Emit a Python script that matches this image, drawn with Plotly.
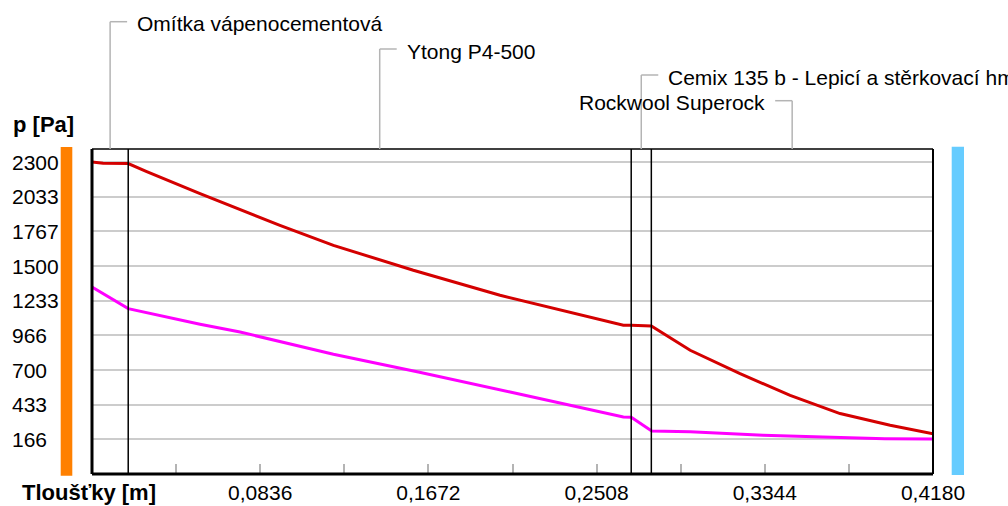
import plotly.graph_objects as go

# ---------------- data ----------------
layer_names = ["Omítka vápenocementová", "Ytong P4-500",
               "Cemix 135 b - Lepicí a stěrkovací hmota", "Rockwool Superock"]
layer_thickness = [0.018, 0.250, 0.010, 0.140]

# saturated water-vapour pressure (red)
sat_x = [0.0, 0.0055, 0.018, 0.0272, 0.0537, 0.0934, 0.1200, 0.1597, 0.2028,
         0.2641, 0.2680, 0.2780, 0.2973, 0.3221, 0.3470, 0.3718, 0.3967, 0.4180]
sat_p = [2300, 2290, 2288, 2226, 2057, 1813, 1659, 1467, 1275,
         1044, 1044, 1039, 852, 672, 505, 365, 275, 210]

# partial water-vapour pressure (magenta)
part_x = [0.0, 0.018, 0.0537, 0.0736, 0.1200, 0.1622, 0.2078, 0.2641, 0.2680,
          0.2782, 0.2973, 0.3335, 0.3633, 0.3941, 0.4180]
part_p = [1338, 1172, 1052, 992, 821, 685, 531, 338, 336,
          231, 225, 198, 185, 172, 169]

y_tick_values = [166.67, 433.33, 700.0, 966.67, 1233.33, 1500.0, 1766.67, 2033.33, 2300.0]
y_tick_labels = ["166", "433", "700", "966", "1233", "1500", "1767", "2033", "2300"]
x_tick_values = [0.0836, 0.1672, 0.2508, 0.3344, 0.4180]
x_tick_labels = ["0,0836", "0,1672", "0,2508", "0,3344", "0,4180"]
x_minor_step = 0.0418
x_range = [0.0, 0.418]
y_range = [-100, 2400]

y_title = "p [Pa]"
x_title = "Tloušťky [m]"

# ---------------- layout geometry ----------------
W, H = 1008, 506
ML, MR, MT, MB = 92, 75, 149, 32
PW, PH = W - ML - MR, H - MT - MB
FONT = "Liberation Sans, Arial, sans-serif"
FS = 21
FSB = 22


def px_x(px):
    return (px - ML) / PW


def px_y(py):
    return (H - MB - py) / PH


def data_to_paper_x(x):
    return (x - x_range[0]) / (x_range[1] - x_range[0])


fig = go.Figure()
fig.add_trace(go.Scatter(x=sat_x, y=sat_p, mode="lines",
                         line=dict(color="#D40000", width=3), showlegend=False))
fig.add_trace(go.Scatter(x=part_x, y=part_p, mode="lines",
                         line=dict(color="#FF00FF", width=3), showlegend=False))

shapes = []
annotations = []

# layer boundaries
bounds = []
acc = 0.0
for t in layer_thickness:
    acc += t
    bounds.append(acc)
for b in bounds[:-1]:
    shapes.append(dict(type="line", xref="x", yref="paper", x0=b, x1=b, y0=0, y1=1,
                       line=dict(color="black", width=1.5), layer="above"))

# frame
shapes += [
    dict(type="line", xref="paper", yref="paper", x0=0, x1=0, y0=0, y1=1,
         line=dict(color="black", width=3), layer="above"),
    dict(type="line", xref="paper", yref="paper", x0=0, x1=1, y0=0, y1=0,
         line=dict(color="black", width=3), layer="above"),
    dict(type="line", xref="paper", yref="paper", x0=0, x1=1, y0=1, y1=1,
         line=dict(color="black", width=1.5), layer="above"),
    dict(type="line", xref="paper", yref="paper", x0=1, x1=1, y0=0, y1=1,
         line=dict(color="black", width=2), layer="above"),
]

# side colour bars (interior / exterior)
shapes.append(dict(type="rect", xref="paper", yref="paper",
                   x0=px_x(60.7), x1=px_x(72.3), y0=px_y(475.7), y1=px_y(147),
                   fillcolor="#FF8000", line=dict(width=0)))
shapes.append(dict(type="rect", xref="paper", yref="paper",
                   x0=px_x(951.7), x1=px_x(964), y0=px_y(475), y1=px_y(146.7),
                   fillcolor="#66CCFF", line=dict(width=0)))

# layer name labels with leader lines
leader_levels_px = [21.7, 49, 75, 100.7]
leader_dir = [1, 1, 1, -1]
lead_len = 17
text_gap = 25
starts = [0.0] + bounds[:-1]
for name, s, b, lvl, d in zip(layer_names, starts, bounds, leader_levels_px, leader_dir):
    mid = data_to_paper_x((s + b) / 2)
    yl = px_y(lvl)
    shapes.append(dict(type="line", xref="paper", yref="paper", x0=mid, x1=mid, y0=1, y1=yl,
                       line=dict(color="#B4B4B4", width=1.5)))
    shapes.append(dict(type="line", xref="paper", yref="paper", x0=mid, x1=mid + d * lead_len / PW,
                       y0=yl, y1=yl, line=dict(color="#B4B4B4", width=1.5)))
    annotations.append(dict(xref="paper", yref="paper", x=mid + d * text_gap / PW, y=yl,
                            yshift=-2, text=name, showarrow=False,
                            xanchor="left" if d > 0 else "right", yanchor="middle",
                            font=dict(family=FONT, size=FS, color="black")))

# y tick labels (left aligned, as in the reference)
for v, lab in zip(y_tick_values, y_tick_labels):
    annotations.append(dict(xref="paper", yref="y", x=px_x(10), y=v, text=lab,
                            showarrow=False, xanchor="left", yanchor="middle",
                            font=dict(family=FONT, size=FS, color="black")))

# axis titles
annotations.append(dict(xref="paper", yref="paper", x=px_x(11), y=px_y(124), text="<b>%s</b>" % y_title,
                        showarrow=False, xanchor="left", yanchor="middle",
                        font=dict(family=FONT, size=FSB, color="black")))
annotations.append(dict(xref="paper", yref="paper", x=px_x(20), y=px_y(492),
                        text="<b>%s</b>" % x_title,
                        showarrow=False, xanchor="left", yanchor="middle",
                        font=dict(family=FONT, size=FSB, color="black")))

fig.update_layout(
    width=W, height=H,
    margin=dict(l=ML, r=MR, t=MT, b=MB, pad=0, autoexpand=False),
    plot_bgcolor="white", paper_bgcolor="white",
    font=dict(family=FONT, size=FS, color="black"),
    shapes=shapes, annotations=annotations,
    xaxis=dict(range=x_range, showgrid=False, zeroline=False, showline=False,
               automargin=False,
               tickmode="array", tickvals=x_tick_values, ticktext=x_tick_labels,
               ticks="inside", ticklen=10, tickwidth=1.5, tickcolor="#B4B4B4",
               minor=dict(tick0=0, dtick=x_minor_step, ticks="inside", ticklen=10,
                          tickwidth=1.5, tickcolor="#B4B4B4", showgrid=False),
               tickfont=dict(family=FONT, size=FS, color="black"),
               ticklabelstandoff=4),
    yaxis=dict(range=y_range, showgrid=True, gridcolor="#CCCCCC", gridwidth=1.5,
               zeroline=False, showline=False, automargin=False,
               tickmode="array", tickvals=y_tick_values, ticktext=y_tick_labels,
               ticks="", showticklabels=False),
)

fig.write_html("out.html", config={"displayModeBar": False},
               post_script="document.body.style.margin='0';")
